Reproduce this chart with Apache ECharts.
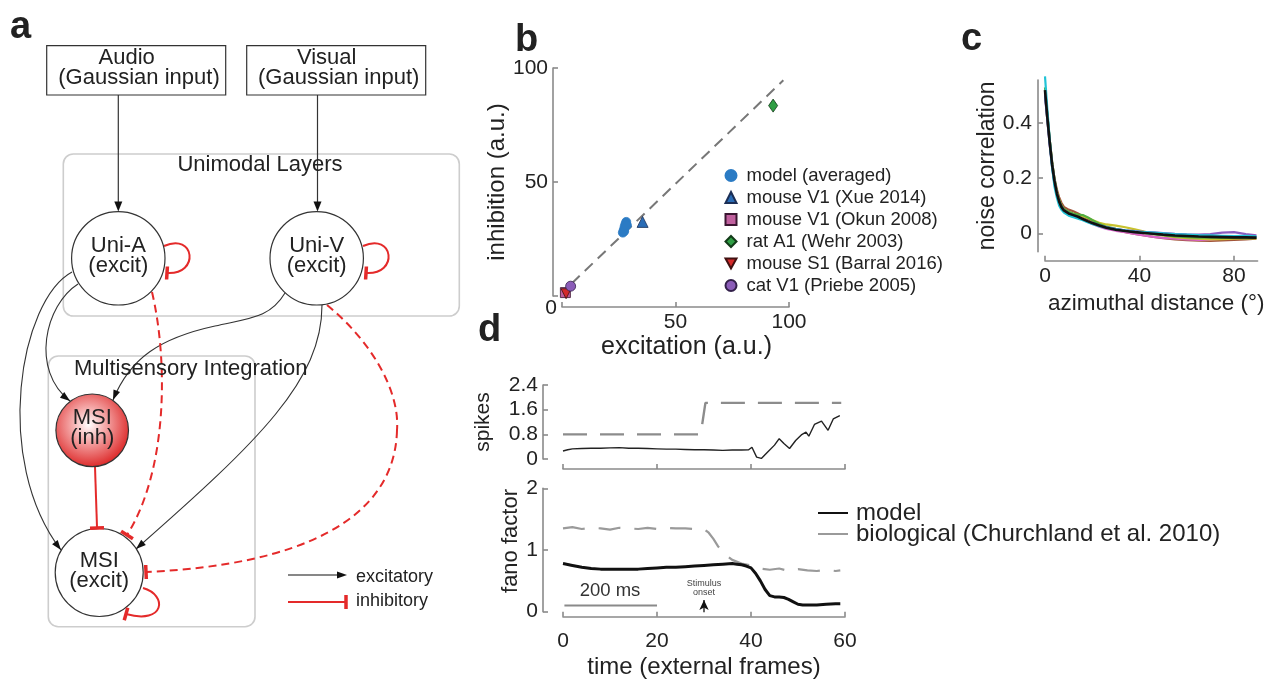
<!DOCTYPE html>
<html><head><meta charset="utf-8">
<script src="https://cdn.jsdelivr.net/npm/echarts@6.0.0/dist/echarts.min.js"></script>
<style>html,body{margin:0;padding:0;background:#fff}#chart{width:1279px;height:679px}</style>
</head><body><div id="chart"></div>
<script>
// ---------------- Panel b : excitation vs inhibition ----------------
const modelX = [26.8, 27.2, 27.6, 28.0, 28.3, 27.4, 28.6];
const modelY = [27.8, 29.0, 30.5, 31.6, 32.5, 28.4, 31.0];
const xueX = [35.5];   const xueY = [32.5];
const okunX = [1.5];   const okunY = [1.5];
const wehrX = [93.0];  const wehrY = [83.5];
const barralX = [1.8]; const barralY = [1.0];
const priebeX = [3.8]; const priebeY = [4.3];
const identityX = [4.3, 97.5];
const identityY = [5.5, 94.6];
const bLegendNames = ['model (averaged)', 'mouse V1 (Xue 2014)', 'mouse V1 (Okun 2008)',
  'rat A1 (Wehr 2003)', 'mouse S1 (Barral 2016)', 'cat V1 (Priebe 2005)'];

// ---------------- Panel c : noise correlation ----------------
const ncX = [0,1,2,3,4,5,6,7,8,10,12,14,16,18,20,23,26,30,34,38,42,46,50,55,60,65,70,75,80,85,89.5];
const ncMean    = [0.52,0.42,0.33,0.25,0.19,0.145,0.115,0.095,0.083,0.072,0.066,0.060,0.052,0.044,0.037,0.028,0.020,0.013,0.008,0.004,0.001,-0.002,-0.005,-0.008,-0.010,-0.012,-0.013,-0.014,-0.015,-0.015,-0.016];
const ncCyan    = [0.57,0.45,0.34,0.24,0.17,0.13,0.10,0.085,0.075,0.064,0.058,0.053,0.047,0.040,0.034,0.026,0.019,0.014,0.010,0.006,0.004,0.002,0.000,-0.003,-0.005,-0.007,-0.008,-0.009,-0.010,-0.009,-0.011];
const ncGreen   = [0.53,0.43,0.34,0.26,0.20,0.15,0.12,0.10,0.088,0.078,0.072,0.068,0.066,0.058,0.048,0.034,0.024,0.016,0.010,0.005,0.001,-0.003,-0.007,-0.011,-0.014,-0.016,-0.015,-0.017,-0.016,-0.018,-0.017];
const ncYellow  = [0.51,0.41,0.33,0.25,0.19,0.15,0.12,0.10,0.087,0.076,0.070,0.066,0.062,0.056,0.048,0.038,0.032,0.028,0.022,0.014,0.006,-0.002,-0.008,-0.014,-0.018,-0.020,-0.022,-0.021,-0.020,-0.018,-0.019];
const ncMagenta = [0.50,0.41,0.32,0.25,0.19,0.14,0.11,0.094,0.082,0.070,0.064,0.058,0.050,0.042,0.034,0.024,0.016,0.009,0.004,-0.002,-0.008,-0.013,-0.017,-0.020,-0.022,-0.024,-0.023,-0.020,-0.016,-0.012,-0.014];
const ncPurple  = [0.51,0.42,0.33,0.25,0.19,0.145,0.115,0.096,0.084,0.072,0.065,0.059,0.051,0.043,0.036,0.028,0.021,0.015,0.011,0.008,0.005,0.003,0.001,-0.002,-0.004,-0.005,-0.003,0.002,0.004,-0.003,-0.008];
const ncBrown   = [0.52,0.43,0.34,0.26,0.20,0.16,0.13,0.11,0.096,0.086,0.080,0.072,0.062,0.052,0.044,0.032,0.022,0.012,0.004,-0.002,-0.008,-0.013,-0.018,-0.022,-0.025,-0.027,-0.028,-0.026,-0.024,-0.022,-0.020];
const ncBlue    = [0.50,0.41,0.32,0.24,0.18,0.14,0.11,0.092,0.080,0.068,0.062,0.057,0.050,0.043,0.037,0.029,0.022,0.015,0.010,0.006,0.003,0.000,-0.003,-0.006,-0.008,-0.010,-0.011,-0.012,-0.012,-0.013,-0.014];
const ncYTicks = [0, 0.2, 0.4];
const ncXTicks = [0, 40, 80];

// ---------------- Panel d : spikes and fano factor ----------------
const spikeBioX = [0, 29.3, 30.3, 59.2];
const spikeBioY = [0.8, 0.8, 1.82, 1.82];
const spikeModelX = [0,1,2,4,6,8,10,12,14,16,18,20,22,24,26,28,30,32,34,36,38,39.5,40.2,41.2,42.2,43.5,45,46,47,48.2,49.5,50.7,51.7,52.3,53.5,55,56.4,57.5,58.9];
const spikeModelY = [0.26,0.30,0.33,0.34,0.35,0.35,0.36,0.37,0.35,0.35,0.34,0.33,0.32,0.32,0.31,0.30,0.30,0.29,0.28,0.29,0.29,0.30,0.38,0.06,0.02,0.22,0.45,0.66,0.50,0.34,0.60,0.78,0.87,0.74,1.12,1.23,0.93,1.30,1.41];
const fanoBioX = [0,2,4,6,8,10,12,14,16,18,20,22,24,26,28,30,31,32,33,34,35,36,38,40,42,44,46,48,50,52,54,56,58,59];
const fanoBioY = [1.35,1.37,1.34,1.36,1.35,1.33,1.36,1.35,1.34,1.36,1.34,1.36,1.35,1.35,1.34,1.34,1.28,1.18,1.06,0.96,0.90,0.84,0.78,0.75,0.70,0.68,0.70,0.66,0.69,0.67,0.66,0.68,0.66,0.67];
const fanoModelX = [0,2,4,6,8,10,12,14,16,18,20,22,24,26,28,30,32,34,36,37,38,39,40,41,42,43,44,45,46,47,48,49,50,51,52,54,56,58,59];
const fanoModelY = [0.78,0.75,0.72,0.70,0.69,0.69,0.69,0.69,0.69,0.70,0.71,0.72,0.72,0.73,0.74,0.75,0.76,0.77,0.78,0.77,0.76,0.74,0.71,0.62,0.50,0.36,0.26,0.24,0.24,0.23,0.20,0.16,0.12,0.11,0.11,0.11,0.12,0.13,0.13];
const scaleBarX = [0.3, 10, 20];
const scaleBarY = [0.1, 0.1, 0.1];
const stimX = [30, 30];
const stimY = [-0.05, 0.19];
const dLegendNames = ['model', 'biological (Churchland et al. 2010)'];

// ---------------- Panel a : network diagram ----------------
const diagNodes = [
  {l1:'Uni-A', l2:'(excit)', cx:118.3, cy:258.3, r:46.7},
  {l1:'Uni-V', l2:'(excit)', cx:316.7, cy:258.3, r:46.7},
  {l1:'MSI',   l2:'(inh)',   cx:92.2,  cy:430.3, r:36.3, inh:true},
  {l1:'MSI',   l2:'(excit)', cx:99.2,  cy:572.5, r:44}
];

const ff = '"Liberation Sans", Arial, Helvetica, sans-serif';
const RED = '#e42a2a', INK = '#222', AX = '#8a8a8a';
const pairs = (xs, ys) => xs.map((x, i) => [x, ys[i]]);

// ---- graphic helpers (schematic only) ----
function T(text, x, y, size, o) {
  o = o || {};
  return {type:'text', z:60, style:{text, x, y, fill:o.fill||INK,
    font:(o.bold?'bold ':'') + size + 'px ' + ff,
    align:o.align||'center', textAlign:o.align||'center',
    verticalAlign:'middle', textVerticalAlign:'middle'}};
}
function curve(p, col, w, dash) {
  return {type:'bezierCurve', z:20, shape:{x1:p[0],y1:p[1],cpx1:p[2],cpy1:p[3],cpx2:p[4],cpy2:p[5],x2:p[6],y2:p[7]},
    style:{stroke:col, lineWidth:w, fill:null, lineDash:dash||null}};
}
function seg(x1,y1,x2,y2,col,w) {
  return {type:'line', z:20, shape:{x1,y1,x2,y2}, style:{stroke:col, lineWidth:w}};
}
function arrow(tx, ty, fx, fy, len, wid) {
  const dx = tx - fx, dy = ty - fy, d = Math.hypot(dx, dy), ux = dx/d, uy = dy/d;
  const bx = tx - ux*len, by = ty - uy*len, px = -uy*wid/2, py = ux*wid/2;
  return {type:'polygon', z:40, shape:{points:[[tx,ty],[bx+px,by+py],[bx-px,by-py]]}, style:{fill:'#111'}};
}
function bar(tx, ty, fx, fy, len) {
  const dx = tx - fx, dy = ty - fy, d = Math.hypot(dx, dy), ux = dx/d, uy = dy/d;
  const px = -uy*len/2, py = ux*len/2;
  return {type:'line', z:40, shape:{x1:tx+px,y1:ty+py,x2:tx-px,y2:ty-py}, style:{stroke:RED, lineWidth:3.5}};
}

const G = [];
G.push({type:'rect', z:5, shape:{x:63.3,y:154,width:396,height:162,r:10}, style:{fill:null, stroke:'#cdcdcd', lineWidth:1.6}});
G.push({type:'rect', z:5, shape:{x:48.3,y:356,width:206.7,height:270.7,r:10}, style:{fill:null, stroke:'#cdcdcd', lineWidth:1.6}});
G.push(T('Unimodal Layers', 260, 165, 22));
G.push(T('Multisensory Integration', 190.8, 369, 22));
G.push({type:'rect', z:30, shape:{x:46.7,y:45.7,width:179,height:49.3}, style:{fill:'#fff', stroke:'#333', lineWidth:1.2}});
G.push({type:'rect', z:30, shape:{x:246.7,y:45.7,width:179,height:49.3}, style:{fill:'#fff', stroke:'#333', lineWidth:1.2}});
G.push(T('Audio', 126.7, 58, 22), T('(Gaussian input)', 139, 78, 22));
G.push(T('Visual', 326.7, 58, 22), T('(Gaussian input)', 338.7, 78, 22));
G.push(seg(118.3,95,118.3,204,'#333',1.2), arrow(118.3,211.6,118.3,150,10,8));
G.push(seg(317.5,95,317.5,204,'#333',1.2), arrow(317.5,211.6,317.5,150,10,8));
const exc = [
  [72,272, 20,300, -8,460, 61,550],
  [78,284, 45,305, 30,370, 70,401],
  [285,293, 270,318, 250,318, 215,326],
  [215,326, 160,338, 130,358, 113,400],
  [322,305, 322,380, 260,440, 136,549]
];
exc.forEach(p => G.push(curve(p, '#333', 1.1)));
[exc[0], exc[1], exc[3], exc[4]].forEach(p => G.push(arrow(p[6], p[7], p[4], p[5], 10, 7)));
const inhD = [
  [152,292, 168,360, 168,470, 127,535],
  [327,305, 370,340, 400,390, 397,430],
  [397,430, 395,520, 300,565, 146,572]
];
inhD.forEach(p => G.push(curve(p, RED, 2, [8,5])));
G.push(bar(127,535,168,470,14), bar(146,572,300,565,14));
G.push(seg(95,467,97,527,RED,2), bar(97,528,95,467,14));
const loops = [
  [164,246, 195,232, 200,275, 167,273],
  [363,246, 394,232, 399,275, 366,273],
  [143,588, 168,595, 165,625, 126,614]
];
loops.forEach(p => { G.push(curve(p, RED, 2)); G.push(bar(p[6], p[7], p[4], p[5], 13)); });
diagNodes.forEach(n => {
  G.push({type:'circle', z:30, shape:{cx:n.cx, cy:n.cy, r:n.r},
    style:{fill: n.inh ? {type:'radial', x:0.45, y:0.42, r:0.6,
      colorStops:[{offset:0,color:'#ffffff'},{offset:0.35,color:'#f6b0b0'},{offset:1,color:'#dc2424'}]} : '#fff',
      stroke:'#333', lineWidth:1.2}});
  G.push(T(n.l1, n.cx, n.cy - 12, 22), T(n.l2, n.cx, n.cy + 8, 22));
});
G.push(seg(288,575,338,575,'#111',1.2), arrow(347,575,300,575,10,7));
G.push(T('excitatory', 356, 577, 18, {align:'left'}));
G.push(seg(288,602,345,602,RED,2), bar(346,602,300,602,14));
G.push(T('inhibitory', 356, 601, 18, {align:'left'}));
G.push(T('a', 10, 28, 38, {bold:true, align:'left'}));
G.push(T('b', 515, 41, 38, {bold:true, align:'left'}));
G.push(T('c', 961, 40, 38, {bold:true, align:'left'}));
G.push(T('d', 478, 331, 38, {bold:true, align:'left'}));

// ---------------- axes ----------------
const lab = (extra) => Object.assign({color:INK, fontSize:21, fontFamily:ff}, extra||{});
const nm = (s, extra) => Object.assign({color:INK, fontSize:s, fontFamily:ff}, extra||{});
function axisBase(o) {
  return Object.assign({
    type:'value', nameLocation:'middle', nameTextStyle:nm(23),
    axisLine:{show:true, onZero:false, lineStyle:{color:AX, width:1.6}},
    axisTick:{show:true, inside:true, length:5, lineStyle:{color:AX, width:1.6}},
    splitLine:{show:false}
  }, o);
}

const xAxes = [
  axisBase({gridIndex:0, min:0, max:100, interval:50, offset:11, name:'excitation (a.u.)', nameGap:28,
    nameTextStyle:nm(25, {padding:[0,0,0,22]}),
    axisLabel:lab({margin:5, formatter:v => v === 0 ? '' : String(v)})}),
  axisBase({gridIndex:1, min:0, max:90, offset:9, name:'azimuthal distance (°)', nameGap:32,
    nameTextStyle:nm(22.5, {padding:[0,0,0,10]}),
    axisLabel:lab({margin:5, customValues:ncXTicks}),
    axisTick:{show:true, inside:true, length:5, customValues:ncXTicks, lineStyle:{color:AX, width:1.6}}}),
  axisBase({gridIndex:2, min:0, max:60, interval:20, offset:10, axisLabel:{show:false}}),
  axisBase({gridIndex:3, min:0, max:60, interval:20, offset:5, name:'time (external frames)', nameGap:39, nameTextStyle:nm(24),
    axisLabel:lab({margin:14})})
];
const yAxes = [
  axisBase({gridIndex:0, min:0, max:100, interval:50, offset:9, name:'inhibition (a.u.)', nameGap:37, nameTextStyle:nm(24),
    axisLabel:lab({margin:-4, formatter:v => v === 0 ? '{z|0}' : '{n|' + v + '}',
      rich:{z:{fontSize:21, fontFamily:ff, color:INK, padding:[24,0,0,0]},
            n:{fontSize:21, fontFamily:ff, color:INK, padding:[0,9,0,0]}}})}),
  axisBase({gridIndex:1, min:-0.067, max:0.557, offset:7, name:'noise correlation', nameGap:38,
    axisLabel:lab({margin:6, customValues:ncYTicks, formatter:v => v === 0 ? '0' : v.toFixed(1)}),
    axisTick:{show:true, inside:true, length:5, customValues:ncYTicks, lineStyle:{color:AX, width:1.6}}}),
  axisBase({gridIndex:2, min:0, max:2.4, interval:0.8, offset:20, name:'spikes', nameGap:49, nameTextStyle:nm(21),
    axisLabel:lab({margin:5, formatter:v => v === 0 ? '0' : (+v).toFixed(1)})}),
  axisBase({gridIndex:3, min:0, max:2, interval:1, offset:20, name:'fano factor', nameGap:17,
    nameTextStyle:nm(22, {padding:[0,0,0,18]}),
    axisLabel:lab({margin:5})})
];

// ---------------- series ----------------
const series = [];
series.push({type:'line', name:'identity', xAxisIndex:0, yAxisIndex:0, data:pairs(identityX, identityY),
  showSymbol:false, lineStyle:{color:'#777', width:2, type:[11,7]}, z:1, silent:true});
const bGroups = [
  {x:modelX, y:modelY, symbol:'circle', size:9, color:'#2b7bc4', border:'#2b7bc4'},
  {x:xueX, y:xueY, symbol:'triangle', size:11, color:'#2a6cb5', border:'#1b2e55'},
  {x:okunX, y:okunY, symbol:'rect', size:10, color:'#c0609e', border:'#3a1530'},
  {x:wehrX, y:wehrY, symbol:'diamond', size:[9,13], color:'#2f9e44', border:'#123a18'},
  {x:barralX, y:barralY, symbol:'path://M0,0 L10,0 L5,9 Z', size:10, color:'#d42a2a', border:'#401010'},
  {x:priebeX, y:priebeY, symbol:'circle', size:10, color:'#8b5cb8', border:'#33204a'}
];
bGroups.forEach((g, i) => series.push({type:'scatter', name:bLegendNames[i], xAxisIndex:0, yAxisIndex:0,
  data:pairs(g.x, g.y), symbol:g.symbol, symbolSize:g.size, z:3,
  itemStyle:{color:g.color, borderColor:g.border, borderWidth:0.8, opacity:1}}));

const cLines = [
  {y:ncBrown, c:'#a2553a'}, {y:ncMagenta, c:'#d864c8'}, {y:ncYellow, c:'#c8c22e'},
  {y:ncGreen, c:'#52ad3e'}, {y:ncPurple, c:'#8a5cc0'}, {y:ncBlue, c:'#3c70c8'},
  {y:ncCyan, c:'#22c3d6'}, {y:ncMean, c:'#111111', w:2.6}
];
cLines.forEach((l, i) => series.push({type:'line', name:'nc' + i, xAxisIndex:1, yAxisIndex:1, clip:false,
  data:pairs(ncX, l.y), showSymbol:false, lineStyle:{color:l.c, width:l.w || 2.2}, itemStyle:{color:l.c}, z:2 + i/10}));

series.push({type:'line', name:'biological spikes', xAxisIndex:2, yAxisIndex:2, data:pairs(spikeBioX, spikeBioY),
  showSymbol:false, lineStyle:{color:'#8c8c8c', width:2.4, type:[24,13]}});
series.push({type:'line', name:'model spikes', xAxisIndex:2, yAxisIndex:2, data:pairs(spikeModelX, spikeModelY),
  showSymbol:false, lineStyle:{color:'#222', width:1.4}});

series.push({type:'line', name:dLegendNames[1], xAxisIndex:3, yAxisIndex:3, data:pairs(fanoBioX, fanoBioY),
  showSymbol:false, itemStyle:{color:'#9a9a9a'}, lineStyle:{color:'#9a9a9a', width:2.2, type:[22,14]}});
series.push({type:'line', name:dLegendNames[0], xAxisIndex:3, yAxisIndex:3, data:pairs(fanoModelX, fanoModelY),
  showSymbol:false, itemStyle:{color:'#111'}, lineStyle:{color:'#111', width:3}});
series.push({type:'line', name:'scale bar', xAxisIndex:3, yAxisIndex:3,
  data:pairs(scaleBarX, scaleBarY).map((p, i) => i === 1 ? {value:p, label:{show:true, formatter:'200 ms', position:'top', distance:5,
    fontSize:18.5, fontFamily:ff, color:'#333'}} : {value:p}),
  showSymbol:true, symbol:'circle', symbolSize:1, itemStyle:{color:'rgba(0,0,0,0)'},
  lineStyle:{color:'#8a8a8a', width:2}, silent:true});
series.push({type:'line', name:'stimulus', xAxisIndex:3, yAxisIndex:3,
  data:pairs(stimX, stimY).map((p, i) => i === 1 ?
    {value:p, symbol:'arrow', symbolSize:[7,10], label:{show:true, formatter:'Stimulus\nonset', position:'top', distance:3,
      fontSize:9, lineHeight:9, fontFamily:ff, color:'#444'}} : {value:p, symbol:'none'}),
  showSymbol:true, itemStyle:{color:'#111'}, lineStyle:{color:'#111', width:1.3}, silent:true});

const gridBase = {outerBoundsMode:'none', containLabel:false};
const option = {
  animation:false,
  backgroundColor:'#fff',
  textStyle:{fontFamily:ff},
  grid:[
    Object.assign({left:562, top:68, width:227, height:228}, gridBase),
    Object.assign({left:1045, top:80, width:212.6, height:171.7}, gridBase),
    Object.assign({left:563, top:385, width:282, height:74}, gridBase),
    Object.assign({left:563, top:488.3, width:282, height:123.4}, gridBase)
  ],
  xAxis:xAxes,
  yAxis:yAxes,
  legend:[
    {data:bLegendNames, orient:'vertical', left:719.5, top:161, itemWidth:11, itemHeight:11, itemGap:3,
      selectedMode:false, textStyle:{color:INK, fontSize:18.5, fontFamily:ff, padding:[0,0,0,5]}},
    {data:[dLegendNames[0]], left:813, top:496, icon:'rect', itemWidth:30, itemHeight:2, selectedMode:false,
      textStyle:{color:INK, fontSize:24, fontFamily:ff, padding:[0,0,0,3]}},
    {data:[dLegendNames[1]], left:813, top:517, icon:'rect', itemWidth:30, itemHeight:2, selectedMode:false,
      textStyle:{color:INK, fontSize:24, fontFamily:ff, padding:[0,0,0,3]}}
  ],
  series:series,
  graphic:{elements:G}
};
const chart = echarts.init(document.getElementById('chart'), null, {renderer:'canvas'});
chart.setOption(option);
</script>
</body></html>
